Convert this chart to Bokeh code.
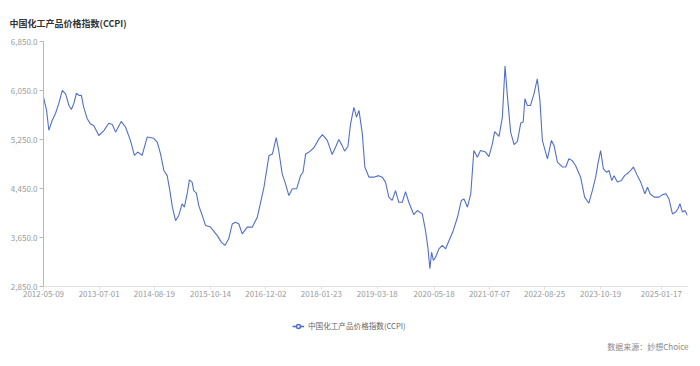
import pandas as pd
from bokeh.plotting import figure
from bokeh.layouts import column
from bokeh.models import (Range1d, FixedTicker, DatetimeTickFormatter, NumeralTickFormatter,
                          Legend, LegendItem, Title, ColumnDataSource)
from bokeh.embed import file_html
from bokeh.resources import INLINE

TITLE = "中国化工产品价格指数(CCPI)"
SERIES_NAME = "中国化工产品价格指数(CCPI)"
SOURCE_NOTE = "数据来源：妙想Choice"

dates = [
    "2012-05-09", "2012-06-01", "2012-06-18", "2012-07-13", "2012-08-07", "2012-09-01", "2012-09-27",
    "2012-10-22", "2012-11-16", "2012-12-04", "2012-12-23", "2013-01-11", "2013-01-30", "2013-02-17",
    "2013-03-07", "2013-04-02", "2013-04-26", "2013-05-21", "2013-06-28", "2013-08-05", "2013-09-11",
    "2013-10-07", "2013-11-01", "2013-12-13", "2014-01-15", "2014-02-20", "2014-03-22", "2014-04-16",
    "2014-05-19", "2014-06-26", "2014-08-14", "2014-09-10", "2014-10-04", "2014-10-29", "2014-11-23",
    "2014-12-13", "2015-01-01", "2015-01-25", "2015-02-18", "2015-03-15", "2015-04-01", "2015-04-22",
    "2015-05-09", "2015-05-29", "2015-06-10", "2015-06-30", "2015-07-18", "2015-08-13", "2015-09-07",
    "2015-10-14", "2015-12-04", "2016-01-03", "2016-01-30", "2016-02-28", "2016-03-25", "2016-04-19",
    "2016-05-14", "2016-06-08", "2016-07-16", "2016-08-23", "2016-09-29", "2016-11-18", "2016-12-26",
    "2017-01-21", "2017-02-18", "2017-03-09", "2017-04-04", "2017-04-29", "2017-05-24", "2017-06-19",
    "2017-07-21", "2017-08-20", "2017-09-07", "2017-09-27", "2017-10-22", "2017-11-28", "2018-01-05",
    "2018-01-31", "2018-03-08", "2018-04-14", "2018-05-09", "2018-06-03", "2018-06-28", "2018-07-16",
    "2018-08-10", "2018-08-30", "2018-09-24", "2018-10-14", "2018-11-01", "2018-11-26", "2018-12-15",
    "2019-01-15", "2019-02-20", "2019-03-29", "2019-04-24", "2019-05-19", "2019-06-13", "2019-07-08",
    "2019-08-02", "2019-08-27", "2019-09-22", "2019-10-16", "2019-11-10", "2019-12-17", "2020-01-13",
    "2020-02-19", "2020-03-14", "2020-04-01", "2020-04-16", "2020-04-29", "2020-05-12", "2020-05-29",
    "2020-06-23", "2020-07-18", "2020-08-12", "2020-09-07", "2020-10-09", "2020-11-09", "2020-12-08",
    "2020-12-28", "2021-01-23", "2021-02-17", "2021-03-12", "2021-04-07", "2021-05-01", "2021-06-08",
    "2021-07-03", "2021-07-29", "2021-08-15", "2021-09-17", "2021-10-12", "2021-11-01", "2021-11-19",
    "2021-12-13", "2022-01-08", "2022-02-02", "2022-02-27", "2022-03-17", "2022-03-30", "2022-04-17",
    "2022-05-11", "2022-06-06", "2022-07-01", "2022-07-21", "2022-08-08", "2022-09-15", "2022-10-15",
    "2022-11-04", "2022-11-29", "2023-01-06", "2023-01-31", "2023-02-23", "2023-03-20", "2023-04-14",
    "2023-05-22", "2023-06-21", "2023-07-23", "2023-08-18", "2023-09-12", "2023-09-29", "2023-10-19",
    "2023-11-09", "2023-12-04", "2023-12-21", "2024-01-11", "2024-01-28", "2024-02-22", "2024-03-23",
    "2024-04-16", "2024-05-19", "2024-06-21", "2024-07-21", "2024-08-15", "2024-09-15", "2024-10-05",
    "2024-10-24", "2024-11-24", "2024-12-31", "2025-01-26", "2025-02-20", "2025-03-15", "2025-04-10",
    "2025-05-04", "2025-05-21", "2025-06-06", "2025-06-24", "2025-07-13", "2025-08-01",
]

ccpi = [
    5940, 5725, 5400, 5560, 5675, 5840, 6050,
    5995, 5805, 5740, 5840, 6005, 5970, 5970,
    5775, 5590, 5505, 5480, 5315, 5395, 5515,
    5495, 5370, 5545, 5450, 5235, 4990, 5045,
    4990, 5290, 5270, 5205, 5015, 4745, 4660,
    4415, 4145, 3925, 4010, 4200, 4145, 4365,
    4590, 4555, 4415, 4375, 4170, 4010, 3845,
    3820, 3680, 3575, 3520, 3630, 3870, 3900,
    3870, 3710, 3820, 3820, 3980, 4470, 4990,
    5015, 5280, 5070, 4690, 4525, 4335, 4445,
    4445, 4660, 4715, 5015, 5045, 5115, 5260,
    5330, 5235, 5005, 5125, 5250, 5150, 5060,
    5135, 5505, 5775, 5615, 5725, 5345, 4800,
    4635, 4635, 4660, 4635, 4555, 4310, 4255,
    4415, 4225, 4225, 4400, 4225, 4025, 4090,
    4035, 3765, 3490, 3140, 3410, 3275, 3330,
    3465, 3520, 3465, 3600, 3765, 3980, 4255,
    4280, 4145, 4365, 5070, 4960, 5070, 5045,
    4970, 5180, 5380, 5300, 5615, 6450, 5950,
    5370, 5165, 5220, 5520, 5535, 5915, 5805,
    5805, 5995, 6240, 5885, 5235, 4935, 5235,
    5150, 4880, 4800, 4800, 4935, 4905, 4825,
    4635, 4310, 4210, 4415, 4635, 4855, 5070,
    4770, 4715, 4745, 4580, 4660, 4555, 4580,
    4660, 4715, 4800, 4660, 4555, 4365, 4470,
    4365, 4310, 4310, 4350, 4365, 4280, 4035,
    4065, 4120, 4200, 4065, 4090, 4010,
]

x_tick_labels = ["2012-05-09", "2013-07-01", "2014-08-19", "2015-10-14", "2016-12-02", "2018-01-23",
                 "2019-03-18", "2020-05-18", "2021-07-07", "2022-08-25", "2023-10-19", "2025-01-17"]
y_ticks = [2850, 3650, 4450, 5250, 6050, 6850]

LINE_COLOR = "#5470c6"
AXIS_COLOR = "#b8b8b8"
LABEL_COLOR = "#9a9a9a"
FONT = "Noto Sans CJK SC"
LINE_WIDTH = 1.1

x_dt = pd.to_datetime(dates)
src = ColumnDataSource(data=dict(x=x_dt, y=ccpi))

# ---- main chart ----
p = figure(width=700, height=310, output_backend="svg", toolbar_location=None,
           x_axis_type="datetime",
           x_range=Range1d(x_dt[0], x_dt[-1]),
           y_range=Range1d(y_ticks[0], y_ticks[-1]),
           min_border_left=43, min_border_right=13, min_border_top=41, min_border_bottom=24)

p.line("x", "y", source=src, line_color=LINE_COLOR, line_width=LINE_WIDTH)

p.xgrid.visible = False
p.ygrid.visible = False
p.outline_line_color = None
p.background_fill_color = "white"
p.border_fill_color = "white"

tick_ms = [float(t.value) / 1e6 for t in pd.to_datetime(x_tick_labels)]
xa = p.xaxis[0]
xa.ticker = FixedTicker(ticks=tick_ms)
fmt = "%Y-%m-%d"
xa.formatter = DatetimeTickFormatter(microseconds=fmt, milliseconds=fmt, seconds=fmt, minsec=fmt,
                                     minutes=fmt, hourmin=fmt, hours=fmt, days=fmt, months=fmt, years=fmt)
ya = p.yaxis[0]
ya.ticker = FixedTicker(ticks=y_ticks)
ya.formatter = NumeralTickFormatter(format="0,0.0")

for ax in (xa, ya):
    ax.axis_line_color = AXIS_COLOR
    ax.major_tick_line_color = AXIS_COLOR
    ax.minor_tick_line_color = None
    ax.major_tick_in = 0
    ax.major_label_text_color = LABEL_COLOR
    ax.major_label_text_font = FONT
    ax.major_label_text_font_size = "8px"
xa.axis_line_color = "#e0e0e0"
xa.major_tick_line_color = "#e0e0e0"
xa.major_tick_out = 3
xa.major_label_standoff = 1
ya.major_tick_out = 4
ya.major_label_standoff = 2

p.title.text = TITLE
p.title.align = "left"
p.title.offset = -34
p.title.text_font = FONT
p.title.text_font_size = "9px"
p.title.text_font_style = "bold"
p.title.text_color = "#333333"
p.title.standoff = 24

# ---- legend + source strip (legend glyphs reuse the series data, kept off-range) ----
q = figure(width=700, height=56, output_backend="svg", toolbar_location=None,
           x_range=Range1d(0, 1), y_range=Range1d(0, 1),
           min_border_left=0, min_border_right=0, min_border_top=0, min_border_bottom=29)
q.axis.visible = False
q.xgrid.visible = False
q.ygrid.visible = False
q.outline_line_color = None
q.background_fill_color = "white"
q.border_fill_color = "white"

leg_line = q.line("x", "y", source=src, line_color=LINE_COLOR, line_width=1.6)
leg_mark = q.scatter("x", "y", source=src, marker="circle", size=7, fill_color="white",
                     line_color=LINE_COLOR, line_width=1.6)

legend = Legend(items=[LegendItem(label=SERIES_NAME, renderers=[leg_line, leg_mark])],
                location=(249, 6), orientation="horizontal",
                border_line_color=None, background_fill_alpha=0,
                label_text_font=FONT, label_text_font_size="7.6px", label_text_color="#666666",
                glyph_width=12, glyph_height=10, label_standoff=4,
                padding=4, margin=0)
q.add_layout(legend, "center")

note = Title(text=SOURCE_NOTE, align="right", text_font=FONT, text_font_size="8px",
             text_color="#888888", text_font_style="normal", standoff=2, offset=-1)
q.add_layout(note, "below")

layout = column(p, q, spacing=0)
open("out.html", "w").write(file_html(layout, INLINE))
